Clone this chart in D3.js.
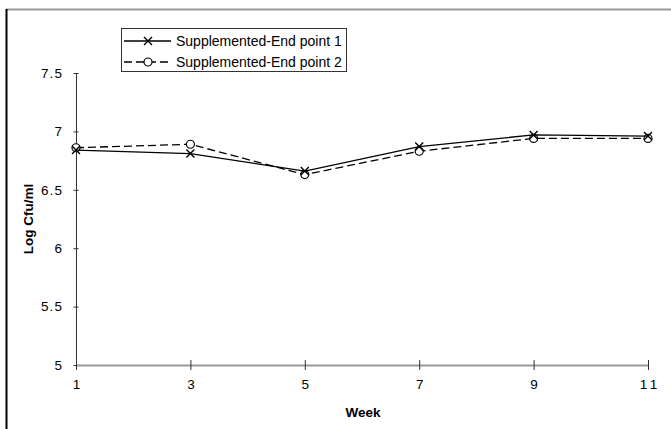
<!DOCTYPE html>
<html>
<head>
<meta charset="utf-8">
<script src="https://cdn.jsdelivr.net/npm/d3@7"></script>
<style>
  body { margin: 0; background: #fff; }
  text { font-family: 'Liberation Sans', Arial, sans-serif; }
</style>
</head>
<body>
<svg id="chart" width="671" height="429"></svg>
<script>
const weeks = [1, 3, 5, 7, 9, 11]
const endPoint1 = [6.84, 6.81, 6.66, 6.87, 6.97, 6.96]
const endPoint2 = [6.86, 6.89, 6.63, 6.83, 6.94, 6.94]
const seriesNames = ['Supplemented-End point 1', 'Supplemented-End point 2']
const yTicks = [5, 5.5, 6, 6.5, 7, 7.5]

const svg = d3.select('#chart')

// outer frame (only top + left visible)
svg.append('line').attr('x1', 6).attr('x2', 671).attr('y1', 9.5).attr('y2', 9.5)
  .attr('stroke', '#9a9a9a').attr('stroke-width', 2)
svg.append('line').attr('x1', 6.5).attr('x2', 6.5).attr('y1', 9).attr('y2', 429)
  .attr('stroke', '#000').attr('stroke-width', 2)

const x = d3.scaleLinear().domain([1, 11]).range([76, 648])
const y = d3.scaleLinear().domain([5, 7.5]).range([365, 73])

// y axis
const yAxis = svg.append('g').attr('transform', 'translate(76,0)')
  .call(d3.axisLeft(y).tickValues(yTicks).tickSize(5).tickSizeOuter(0)
    .tickFormat(d => d3.format('')(d).split('').join('\u200A')))
yAxis.select('.domain').attr('stroke', '#333')
yAxis.selectAll('.tick line').attr('stroke', '#333').attr('transform', 'translate(2.5,0)').attr('x2', -5)
yAxis.selectAll('text').attr('font-size', 13.5).attr('fill', '#000').attr('x', -14)

// x axis
const xAxis = svg.append('g').attr('transform', 'translate(0,365)')
  .call(d3.axisBottom(x).tickValues(weeks).tickSize(5).tickSizeOuter(0)
    .tickFormat(d => String(d).split('').join('\u2009')))
xAxis.select('.domain').attr('stroke', '#999').attr('stroke-width', 2)
xAxis.selectAll('.tick line').attr('stroke', '#333').attr('y1', -5).attr('y2', 5)
xAxis.selectAll('text').attr('font-size', 13.5).attr('fill', '#000').attr('y', 14)

// axis titles
svg.append('text').attr('x', 363).attr('y', 417).attr('text-anchor', 'middle')
  .attr('font-size', 13.5).attr('font-weight', 'bold').text('Week')
svg.append('text').attr('transform', 'translate(33,219) rotate(-90)')
  .attr('text-anchor', 'middle').attr('font-size', 13.5).attr('font-weight', 'bold')
  .text('Log Cfu/ml')

const line = d3.line().x(d => x(d[0])).y(d => y(d[1]))

// series 2: dashed with circles
const data2 = weeks.map((w, i) => [w, endPoint2[i]])
svg.append('path').attr('d', line(data2)).attr('fill', 'none')
  .attr('stroke', '#000').attr('stroke-width', 1.3).attr('stroke-dasharray', '8,4')
svg.selectAll('.c2').data(data2).enter().append('circle')
  .attr('cx', d => x(d[0])).attr('cy', d => y(d[1])).attr('r', 4)
  .attr('fill', '#fff').attr('stroke', '#000').attr('stroke-width', 1.2)

// series 1: solid with X marks
const data1 = weeks.map((w, i) => [w, endPoint1[i]])
svg.append('path').attr('d', line(data1)).attr('fill', 'none')
  .attr('stroke', '#000').attr('stroke-width', 1.3)
function xMark(g, cx, cy) {
  g.append('path').attr('d', `M${cx - 4},${cy - 4}L${cx + 4},${cy + 4}M${cx - 4},${cy + 4}L${cx + 4},${cy - 4}`)
    .attr('stroke', '#000').attr('stroke-width', 1.4)
}
data1.forEach(d => xMark(svg, x(d[0]), y(d[1])))

// legend
const lg = svg.append('g')
lg.append('rect').attr('x', 121.5).attr('y', 28.5).attr('width', 225).attr('height', 43)
  .attr('fill', '#fff').attr('stroke', '#333').attr('stroke-width', 1)
lg.append('line').attr('x1', 124).attr('x2', 171).attr('y1', 41).attr('y2', 41)
  .attr('stroke', '#000').attr('stroke-width', 1.3)
xMark(lg, 148, 41)
lg.append('line').attr('x1', 124).attr('x2', 171).attr('y1', 62).attr('y2', 62)
  .attr('stroke', '#000').attr('stroke-width', 1.3).attr('stroke-dasharray', '8,4')
lg.append('circle').attr('cx', 148).attr('cy', 62).attr('r', 4)
  .attr('fill', '#fff').attr('stroke', '#000').attr('stroke-width', 1.2)
lg.selectAll('.lt').data(seriesNames).enter().append('text')
  .attr('x', 176).attr('y', (d, i) => 46 + i * 21).attr('font-size', 14)
  .text(d => d.replace(/ (\d)$/, '  $1'))
</script>
</body>
</html>
